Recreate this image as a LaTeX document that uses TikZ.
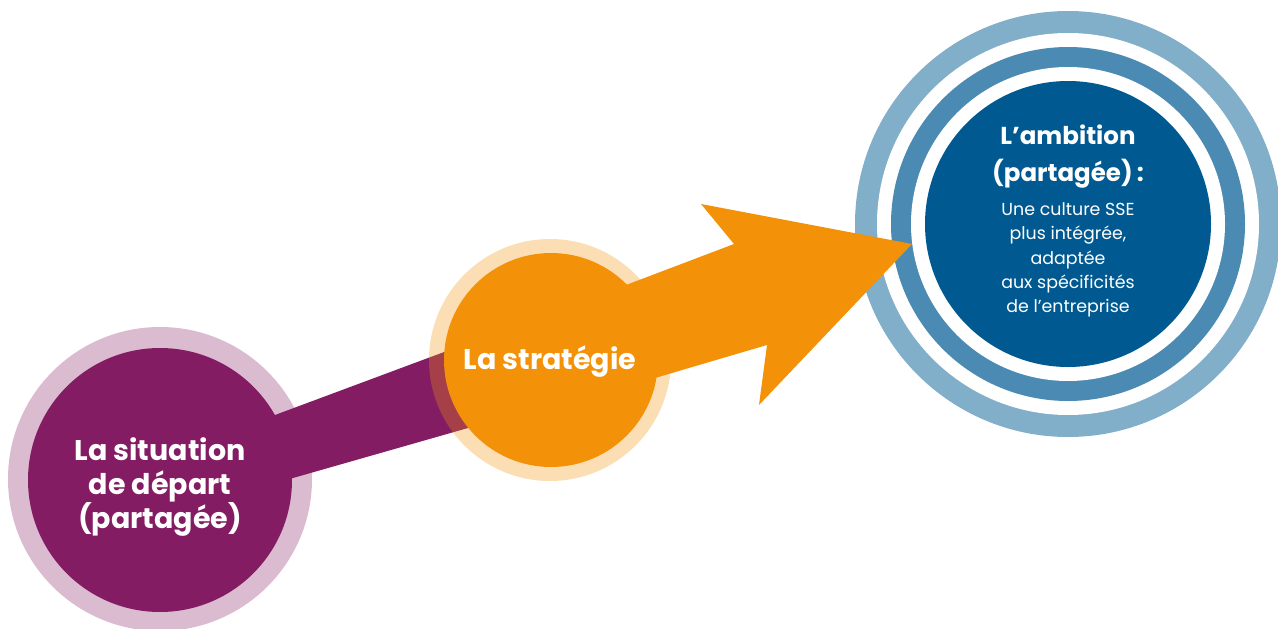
\documentclass[tikz,border=0pt]{standalone}
\usepackage{fontspec}
\newfontfamily\popfont{Poppins}
\definecolor{purpleD}{HTML}{841C64}
\definecolor{purpleL}{HTML}{DABBD0}
\definecolor{orangeD}{HTML}{F39208}
\definecolor{blueD}{HTML}{005A91}
\definecolor{blueM}{HTML}{4A8AB3}
\definecolor{blueL}{HTML}{81AEC8}
\begin{document}
\begin{tikzpicture}[x=1pt,y=-1pt,
  disc/.style={circle,inner sep=0pt,draw=none,minimum size=#1},
  titletxt/.style={text=white,align=center,font=\popfont\bfseries\fontsize{28.5}{34}\selectfont},
  bodytxt/.style={text=white,align=center,font=\popfont\fontsize{17.4}{24.2}\selectfont}]
\useasboundingbox (0,0) rectangle (1278,629);
% purple start circle
\node[disc=304pt,fill=purpleL] (pring) at (160,479) {};
\node[disc=264pt,fill=purpleD] (pcore) at (160,480) {};
% purple band
\path[fill=purpleD] (160,458) -- (275,415) -- (428,358) -- (550,313) -- (550,405) -- (468,428) -- (293,478) -- (160,516) -- cycle;
% orange circle (ring semi transparent)
\node[disc=242pt,fill=orangeD,fill opacity=0.3] (oring) at (550,360) {};
\node[disc=214pt,fill=orangeD] (ocore) at (551,360) {};
% blue target circles
\node[disc=426pt,fill=blueL] (bring1) at (1068,224) {};
\node[disc=382pt,fill=white] (bgap1) at (1068,224) {};
\node[disc=354pt,fill=blueM] (bring2) at (1068,224) {};
\node[disc=314pt,fill=white] (bgap2) at (1068,224) {};
\node[disc=286pt,fill=blueD] (bcore) at (1068,224) {};
% orange arrow
\path[fill=orangeD] (550,314) -- (626,285) -- (734,244) -- (701,204) -- (912,244)
  -- (759,405) -- (767,345) -- (655,378) -- (550,409) -- cycle;
% texts
\node[titletxt] (ptext) at (160,487) {La situation\\de départ\\(partagée)};
\node[titletxt] (otext) at (550,362) {La stratégie};
\node[titletxt,font=\popfont\bfseries\fontsize{24.5}{37}\selectfont] (btitle) at (1068,157) {L’ambition\\(partagée)\,:};
\node[bodytxt] (bbody) at (1068,260) {Une culture SSE\\plus intégrée,\\adaptée\\aux spécificités\\de l’entreprise};
\end{tikzpicture}
\end{document}
